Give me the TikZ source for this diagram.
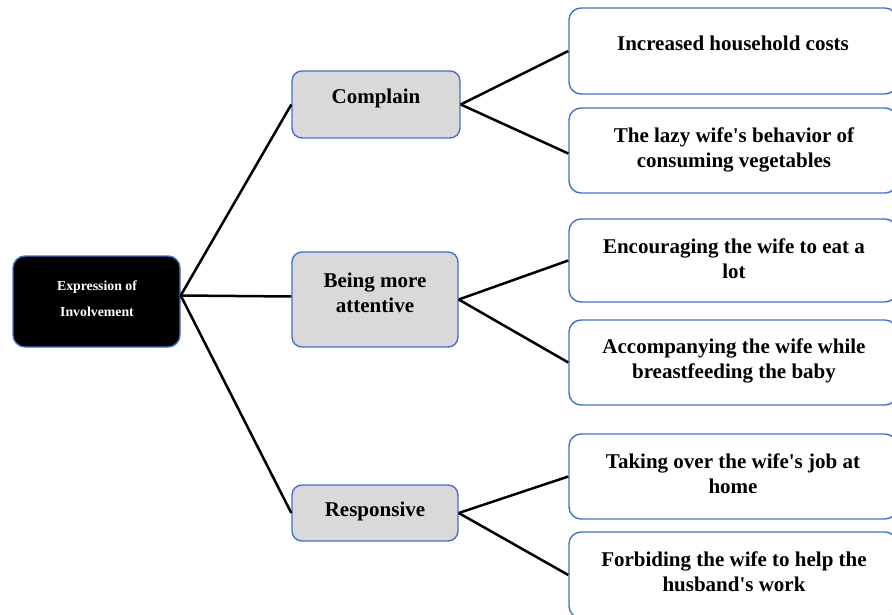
\documentclass[tikz,border=0pt]{standalone}
\usepackage{fontspec}
\setmainfont{Liberation Serif}
\begin{document}
\begin{tikzpicture}[x=1pt,y=-1pt,
  box/.style={draw=boxblue,line width=1.4pt,rounded corners=12pt,inner sep=0pt},
  mid/.style={box,fill=midgray,rounded corners=10pt},
  leaf/.style={box,fill=white},
  txt/.style={font=\bfseries\fontsize{21}{25}\selectfont,align=center,inner sep=0pt,text=black},
  link/.style={line width=2.5pt,black}]
\definecolor{boxblue}{RGB}{68,114,196}
\definecolor{midgray}{RGB}{217,217,217}
\clip (0,0) rectangle (892,615);
\fill[white] (0,0) rectangle (892,615);
% root
\node[box,fill=black,minimum width=167pt,minimum height=91pt] (root) at (96.5,301.5) {};
\node[txt,text=white,font=\bfseries\fontsize{13.8}{26}\selectfont] (troot) at (97,298.5) {Expression of\\Involvement};
% middle
\node[mid,minimum width=168pt,minimum height=67pt] (c1) at (376,104.5) {};
\node[mid,minimum width=166pt,minimum height=95pt] (c2) at (375,299.5) {};
\node[mid,minimum width=166pt,minimum height=56pt] (c3) at (375,513) {};
\node[txt] (tc1) at (376,98) {Complain};
\node[txt] (tc2) at (375,293) {Being more\\attentive};
\node[txt] (tc3) at (375,511.5) {Responsive};
% leaves
\node[leaf,minimum width=328pt,minimum height=86pt] (r1) at (733,51) {};
\node[leaf,minimum width=328pt,minimum height=85pt] (r2) at (733,150.5) {};
\node[leaf,minimum width=328pt,minimum height=83pt] (r3) at (733,260.5) {};
\node[leaf,minimum width=328pt,minimum height=85pt] (r4) at (733,362.5) {};
\node[leaf,minimum width=328pt,minimum height=85pt] (r5) at (733,476.5) {};
\node[leaf,minimum width=328pt,minimum height=86pt] (r6) at (733,575) {};
\node[txt] (t1) at (733,43) {Increased household costs};
\node[txt] (t2) at (734,149.5) {The lazy wife\textquotesingle s behavior of\\consuming vegetables};
\node[txt] (t3) at (734,259) {Encouraging the wife to eat a\\lot};
\node[txt] (t4) at (734,361) {Accompanying the wife while\\breastfeeding the baby};
\node[txt] (t5) at (733,474) {Taking over the wife\textquotesingle s job at\\home};
\node[txt] (t6) at (734,572) {Forbiding the wife to help the\\husband\textquotesingle s work};
% connectors
\coordinate (rj) at ([yshift=6pt]root.east);
\draw[link] (rj) -- (c1.west);
\draw[link] (rj) -- ([yshift=3pt]c2.west);
\draw[link] (rj) -- (c3.west);
\draw[link] (c1.east) -- (r1.west);
\draw[link] (c1.east) -- ([yshift=-3pt]r2.west);
\draw[link] (c2.east) -- (r3.west);
\draw[link] (c2.east) -- (r4.west);
\draw[link] (c3.east) -- (r5.west);
\draw[link] (c3.east) -- (r6.west);
\end{tikzpicture}
\end{document}
